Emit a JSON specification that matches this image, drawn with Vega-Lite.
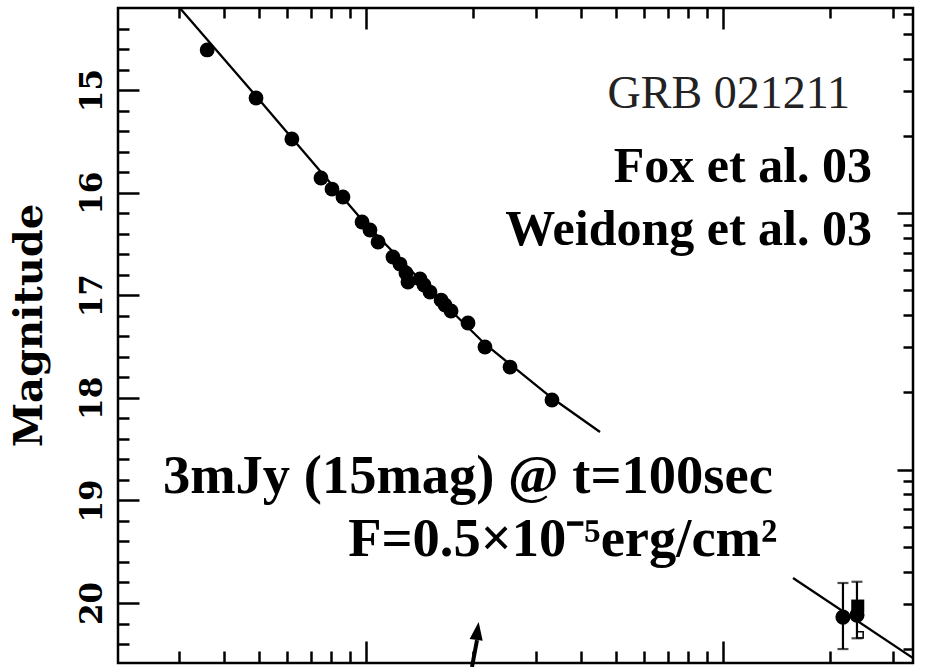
{
  "$schema": "https://vega.github.io/schema/vega-lite/v6.json",
  "width": 795,
  "height": 655,
  "autosize": {"type": "none"},
  "padding": {"left": 118, "top": 8, "right": 13, "bottom": 4},
  "background": "white",
  "config": {
    "view": {"stroke": "black", "strokeWidth": 2.5},
    "axis": {"grid": false, "domain": false, "labels": false, "title": null, "tickColor": "black", "tickWidth": 2.5}
  },
  "datasets": {
    "model": [
      {"t": 30.1, "mag": 14.2, "seg": "early"},
      {"t": 49.2, "mag": 15.058, "seg": "early"},
      {"t": 62.0, "mag": 15.467, "seg": "early"},
      {"t": 97.5, "mag": 16.267, "seg": "early"},
      {"t": 151.1, "mag": 16.949, "seg": "early"},
      {"t": 215.4, "mag": 17.475, "seg": "early"},
      {"t": 331.9, "mag": 18.002, "seg": "early"},
      {"t": 452.4, "mag": 18.333, "seg": "early"},
      {"t": 1571, "mag": 19.757, "seg": "late"},
      {"t": 3406, "mag": 20.537, "seg": "late"}
    ],
    "early": [
      {"t": 35.9, "mag": 14.609},
      {"t": 49.2, "mag": 15.077},
      {"t": 62.0, "mag": 15.477},
      {"t": 74.8, "mag": 15.857},
      {"t": 80.3, "mag": 15.965},
      {"t": 86.2, "mag": 16.042},
      {"t": 97.5, "mag": 16.286},
      {"t": 102.6, "mag": 16.364},
      {"t": 108.1, "mag": 16.481},
      {"t": 119.0, "mag": 16.627},
      {"t": 124.5, "mag": 16.696},
      {"t": 129.4, "mag": 16.783},
      {"t": 131.1, "mag": 16.871},
      {"t": 141.7, "mag": 16.842},
      {"t": 145.4, "mag": 16.9},
      {"t": 151.1, "mag": 16.969},
      {"t": 162.3, "mag": 17.047},
      {"t": 166.5, "mag": 17.095},
      {"t": 173.1, "mag": 17.154},
      {"t": 193.1, "mag": 17.271},
      {"t": 215.4, "mag": 17.505},
      {"t": 253.2, "mag": 17.7},
      {"t": 331.9, "mag": 18.021}
    ],
    "late": [
      {"t": 2168, "mag": 20.137, "lo": 19.805, "hi": 20.449},
      {"t": 2373, "mag": 20.118, "lo": 19.793, "hi": 20.344}
    ],
    "lateSquare": [
      {"t": 2385, "mag": 20.03}
    ],
    "lateOpen": [
      {"t": 2420, "mag": 20.31}
    ],
    "arrow": [
      {"t": 198.1, "mag": 20.624, "t2": 204.6, "mag2": 20.361}
    ],
    "arrowHead": [
      {"t": 204.6, "mag": 20.302}
    ]
  },
  "resolve": {"axis": {"x": "independent", "y": "independent"}},
  "layer": [
    {
      "data": {"name": "model"},
      "mark": {"type": "line", "color": "black", "strokeWidth": 2.3, "clip": true},
      "encoding": {
        "x": {"field": "t", "type": "quantitative",
              "scale": {"type": "log", "domain": [20.2, 3406], "nice": false},
              "axis": {"orient": "bottom", "values": [100, 1000], "tickSize": -22}},
        "y": {"field": "mag", "type": "quantitative",
              "scale": {"domain": [14.2, 20.585], "reverse": true, "nice": false, "zero": false},
              "axis": {"orient": "left", "values": [15, 16, 17, 18, 19, 20], "tickSize": -21,
                       "labels": true, "labelAngle": 270, "labelAlign": "center", "labelBaseline": "alphabetic",
                       "labelPadding": 38, "labelFont": "DejaVu Serif", "labelFontSize": 31, "labelFontWeight": "bold", "labelColor": "black",
                       "title": "Magnitude", "titleFont": "DejaVu Serif", "titleFontWeight": "bold",
                       "titleFontSize": 40, "titleColor": "black", "titleAngle": 270,
                       "titleBaseline": "alphabetic", "titlePadding": 35, "titleY": 317}},
        "detail": {"field": "seg"}
      }
    },
    {
      "data": {"name": "early"},
      "mark": {"type": "point", "shape": "circle", "filled": true, "color": "black", "size": 220, "opacity": 1},
      "encoding": {
        "x": {"field": "t", "type": "quantitative",
              "scale": {"type": "log", "domain": [20.2, 3406], "nice": false},
              "axis": {"orient": "bottom", "values": [30, 40, 50, 60, 70, 80, 90, 200, 300, 400, 500, 600, 700, 800, 900, 2000, 3000], "tickSize": -12}},
        "y": {"field": "mag", "type": "quantitative",
              "scale": {"domain": [14.2, 20.585], "reverse": true, "nice": false, "zero": false},
              "axis": {"orient": "left", "values": [14.4, 14.6, 14.8, 15.2, 15.4, 15.6, 15.8, 16.2, 16.4, 16.6, 16.8, 17.2, 17.4, 17.6, 17.8, 18.2, 18.4, 18.6, 18.8, 19.2, 19.4, 19.6, 19.8, 20.2, 20.4], "tickSize": -11}}
      }
    },
    {
      "data": {"name": "late"},
      "mark": {"type": "rule", "color": "black", "strokeWidth": 2.2},
      "encoding": {
        "x": {"field": "t", "type": "quantitative",
              "scale": {"type": "log", "domain": [20.2, 3406], "nice": false},
              "axis": {"orient": "top", "values": [100, 1000], "tickSize": -21}},
        "y": {"field": "lo", "type": "quantitative",
              "scale": {"domain": [14.2, 20.585], "reverse": true, "nice": false, "zero": false},
              "axis": {"orient": "right", "values": [16.2, 18.7], "tickSize": -16}},
        "y2": {"field": "hi"}
      }
    },
    {
      "data": {"name": "late"},
      "mark": {"type": "tick", "orient": "horizontal", "color": "black", "size": 11, "thickness": 2.2},
      "encoding": {
        "x": {"field": "t", "type": "quantitative",
              "scale": {"type": "log", "domain": [20.2, 3406], "nice": false},
              "axis": {"orient": "top", "values": [30, 40, 50, 60, 70, 80, 90, 200, 300, 400, 500, 600, 700, 800, 900, 2000, 3000], "tickSize": -10}},
        "y": {"field": "lo", "type": "quantitative",
              "scale": {"domain": [14.2, 20.585], "reverse": true, "nice": false, "zero": false},
              "axis": {"orient": "right", "values": [14.255, 14.453, 14.695, 15.007, 15.447, 16.314, 16.442, 16.587, 16.755, 16.953, 17.195, 17.507, 17.947, 18.814, 18.942, 19.087, 19.255, 19.453, 19.695, 20.007, 20.447], "tickSize": -10}}
      }
    },
    {
      "data": {"name": "late"},
      "mark": {"type": "tick", "orient": "horizontal", "color": "black", "size": 11, "thickness": 2.2},
      "encoding": {
        "x": {"field": "t", "type": "quantitative", "scale": {"type": "log", "domain": [20.2, 3406], "nice": false}, "axis": null},
        "y": {"field": "hi", "type": "quantitative", "scale": {"domain": [14.2, 20.585], "reverse": true, "nice": false, "zero": false}, "axis": null}
      }
    },
    {
      "data": {"name": "late"},
      "mark": {"type": "point", "shape": "circle", "filled": true, "color": "black", "size": 230, "opacity": 1},
      "encoding": {
        "x": {"field": "t", "type": "quantitative", "scale": {"type": "log", "domain": [20.2, 3406], "nice": false}, "axis": null},
        "y": {"field": "mag", "type": "quantitative", "scale": {"domain": [14.2, 20.585], "reverse": true, "nice": false, "zero": false}, "axis": null}
      }
    },
    {
      "data": {"name": "lateSquare"},
      "mark": {"type": "point", "shape": "square", "filled": true, "color": "black", "size": 170, "opacity": 1},
      "encoding": {
        "x": {"field": "t", "type": "quantitative", "scale": {"type": "log", "domain": [20.2, 3406], "nice": false}, "axis": null},
        "y": {"field": "mag", "type": "quantitative", "scale": {"domain": [14.2, 20.585], "reverse": true, "nice": false, "zero": false}, "axis": null}
      }
    },
    {
      "data": {"name": "lateOpen"},
      "mark": {"type": "point", "shape": "square", "filled": false, "color": "black", "strokeWidth": 1.5, "size": 40, "opacity": 1},
      "encoding": {
        "x": {"field": "t", "type": "quantitative", "scale": {"type": "log", "domain": [20.2, 3406], "nice": false}, "axis": null},
        "y": {"field": "mag", "type": "quantitative", "scale": {"domain": [14.2, 20.585], "reverse": true, "nice": false, "zero": false}, "axis": null}
      }
    },
    {
      "data": {"name": "arrow"},
      "mark": {"type": "rule", "color": "black", "strokeWidth": 4},
      "encoding": {
        "x": {"field": "t", "type": "quantitative", "scale": {"type": "log", "domain": [20.2, 3406], "nice": false}, "axis": null},
        "y": {"field": "mag", "type": "quantitative", "scale": {"domain": [14.2, 20.585], "reverse": true, "nice": false, "zero": false}, "axis": null},
        "x2": {"field": "t2"},
        "y2": {"field": "mag2"}
      }
    },
    {
      "data": {"name": "arrowHead"},
      "mark": {"type": "point", "shape": "M0,-1L0.55,0.5L-0.55,0.5Z", "filled": true, "color": "black", "size": 576, "angle": 8, "opacity": 1},
      "encoding": {
        "x": {"field": "t", "type": "quantitative", "scale": {"type": "log", "domain": [20.2, 3406], "nice": false}, "axis": null},
        "y": {"field": "mag", "type": "quantitative", "scale": {"domain": [14.2, 20.585], "reverse": true, "nice": false, "zero": false}, "axis": null}
      }
    },
    {
      "data": {"values": [{"t": 2268, "mag": 15.175, "label": "GRB 021211"}]},
      "mark": {"type": "text", "align": "right", "baseline": "alphabetic", "font": "Liberation Serif", "fontSize": 46, "color": "#222222"},
      "encoding": {
        "x": {"field": "t", "type": "quantitative", "scale": {"type": "log", "domain": [20.2, 3406], "nice": false}, "axis": null},
        "y": {"field": "mag", "type": "quantitative", "scale": {"domain": [14.2, 20.585], "reverse": true, "nice": false, "zero": false}, "axis": null},
        "text": {"field": "label"}
      }
    },
    {
      "data": {"values": [
        {"t": 2615, "mag": 15.896, "label": "Fox et al. 03"},
        {"t": 2615, "mag": 16.51, "label": "Weidong et al. 03"}
      ]},
      "mark": {"type": "text", "align": "right", "baseline": "alphabetic", "font": "Liberation Serif", "fontWeight": "bold", "fontSize": 50, "color": "black"},
      "encoding": {
        "x": {"field": "t", "type": "quantitative", "scale": {"type": "log", "domain": [20.2, 3406], "nice": false}, "axis": null},
        "y": {"field": "mag", "type": "quantitative", "scale": {"domain": [14.2, 20.585], "reverse": true, "nice": false, "zero": false}, "axis": null},
        "text": {"field": "label"}
      }
    },
    {
      "data": {"values": [
        {"t": 1380, "mag": 18.93, "label": "3mJy (15mag) @ t=100sec"},
        {"t": 1420, "mag": 19.54, "label": "F=0.5×10⁻⁵erg/cm²"}
      ]},
      "mark": {"type": "text", "align": "right", "baseline": "alphabetic", "font": "Liberation Serif", "fontWeight": "bold", "fontSize": 54.5, "color": "black"},
      "encoding": {
        "x": {"field": "t", "type": "quantitative", "scale": {"type": "log", "domain": [20.2, 3406], "nice": false}, "axis": null},
        "y": {"field": "mag", "type": "quantitative", "scale": {"domain": [14.2, 20.585], "reverse": true, "nice": false, "zero": false}, "axis": null},
        "text": {"field": "label"}
      }
    }
  ]
}
